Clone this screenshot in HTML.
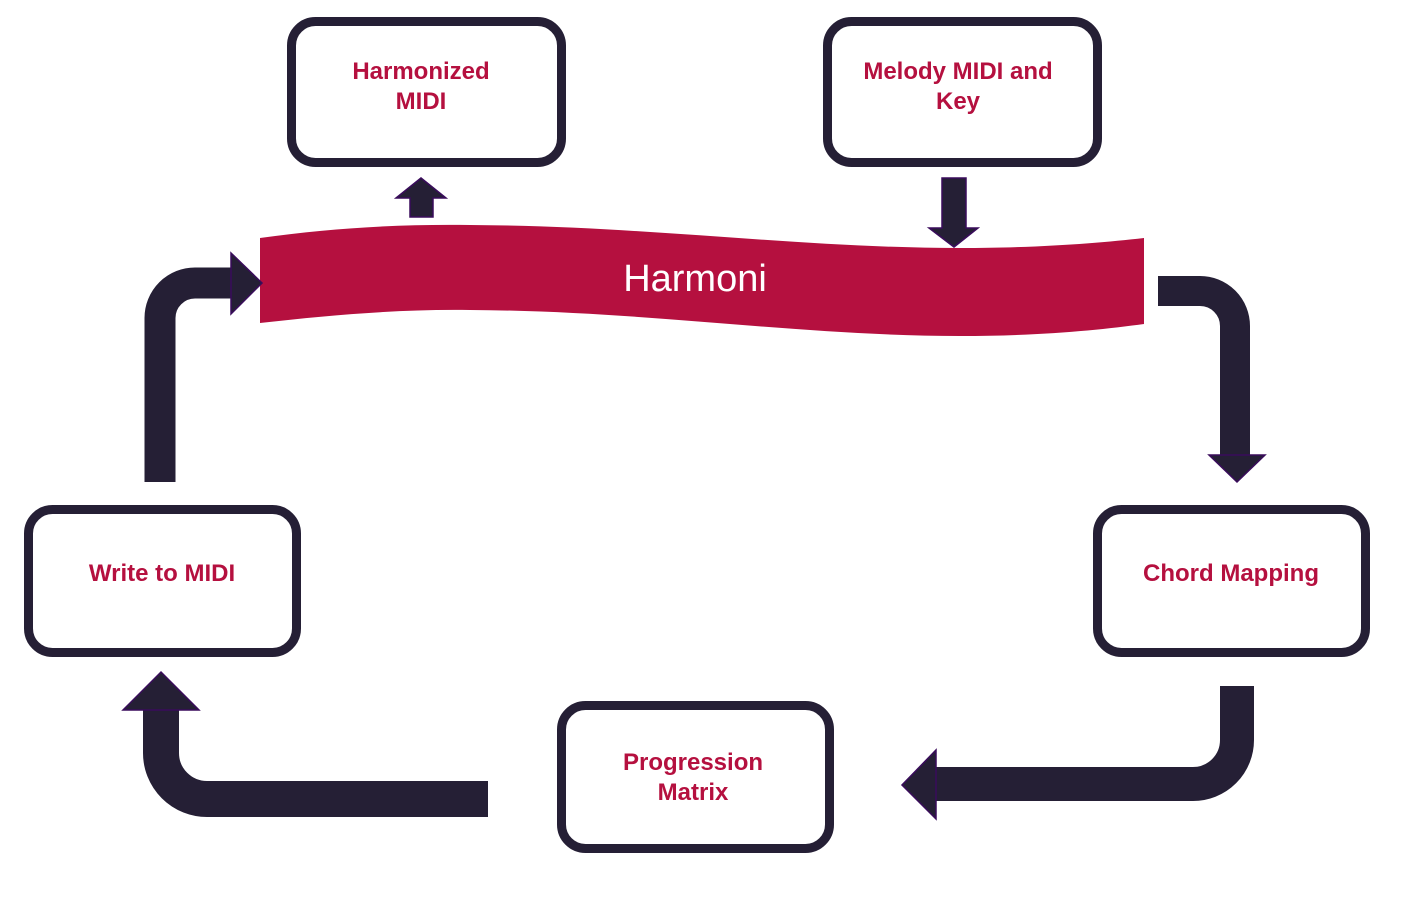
<!DOCTYPE html>
<html><head><meta charset="utf-8"><style>
html,body{margin:0;padding:0;background:#fff;}
svg{display:block;}
text{font-family:"Liberation Sans",sans-serif;}
.b{fill:#fff;stroke:#251f35;stroke-width:9;}
.t{fill:#b5103f;font-weight:bold;font-size:24px;text-anchor:middle;}
.a{fill:#251f35;stroke:#3a0c5c;stroke-width:1.5;}
.s{fill:none;stroke:#251f35;}
</style></head><body>
<svg width="1416" height="910" viewBox="0 0 1416 910">
<!-- boxes -->
<rect class="b" x="291.5" y="21.5" width="270" height="141" rx="24"/>
<text class="t" x="421" y="79">Harmonized</text><text class="t" x="421" y="109">MIDI</text>
<rect class="b" x="827.5" y="21.5" width="270" height="141" rx="24"/>
<text class="t" x="958" y="79">Melody MIDI and</text><text class="t" x="958" y="109">Key</text>
<rect class="b" x="28.5" y="509.5" width="268" height="143" rx="24"/>
<text class="t" x="162" y="581">Write to MIDI</text>
<rect class="b" x="1097.5" y="509.5" width="268" height="143" rx="24"/>
<text class="t" x="1231" y="581">Chord Mapping</text>
<rect class="b" x="561.5" y="705.5" width="268" height="143" rx="24"/>
<text class="t" x="693" y="770">Progression</text><text class="t" x="693" y="800">Matrix</text>
<!-- banner -->
<path fill="#b5103f" d="M260 238 C 330 228 400 224 470 225 C 650 226 800 248 960 248 C 1040 248 1100 243 1144 238 L 1144 324 C 1100 330 1040 336 960 336 C 800 336 650 311 470 310 C 400 309 330 315 260 323 Z"/>
<text x="695" y="291" fill="#fff" font-size="38" text-anchor="middle">Harmoni</text>
<!-- small arrows -->
<path class="a" d="M410 217 V198 H396 L421 178 L446 198 H433 V217 Z"/>
<path class="a" d="M942 178 H966 V228 H978 L954 247 L929 228 H942 Z"/>
<!-- left arrow -->
<path class="s" stroke-width="31" d="M160 482 V318 A35 35 0 0 1 195 283 H232"/>
<path class="a" d="M231 253 L262 283 L231 314 Z"/>
<!-- right arrow -->
<path class="s" stroke-width="30" d="M1158 291 H1200 A35 35 0 0 1 1235 326 V456"/>
<path class="a" d="M1209 455 H1265 L1237 482 Z"/>
<!-- bottom right arrow -->
<path class="s" stroke-width="34" d="M1237 686 V740 A44 44 0 0 1 1193 784 H935"/>
<path class="a" d="M936 750 V819 L902 785 Z"/>
<!-- bottom left arrow -->
<path class="s" stroke-width="36" d="M488 799 H207 A46 46 0 0 1 161 753 V709"/>
<path class="a" d="M123 710 L161 672 L199 710 Z"/>
</svg>
</body></html>
